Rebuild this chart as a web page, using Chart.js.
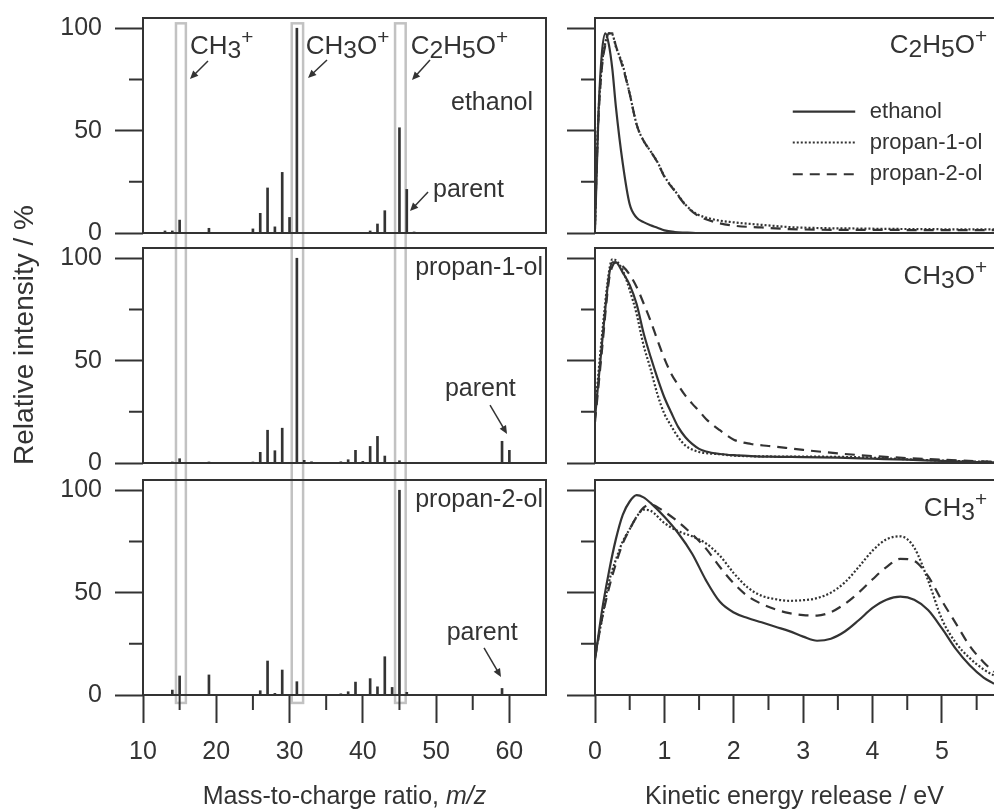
<!DOCTYPE html>
<html>
<head>
<meta charset="utf-8">
<title>Mass spectra and KER distributions</title>
<script src="https://cdn.jsdelivr.net/npm/chart.js@4.4.1/dist/chart.umd.min.js"></script>
<style>
  html, body { margin: 0; padding: 0; background: #fff; }
  #figure { position: relative; width: 994px; height: 811px; overflow: hidden; }
  #figure canvas { position: absolute; top: 0; }
</style>
</head>
<body>
<div id="figure">
  <canvas id="ms1" width="560" height="811" style="left:0px"></canvas>
  <canvas id="ms2" width="560" height="811" style="left:0px"></canvas>
  <canvas id="ms3" width="560" height="811" style="left:0px"></canvas>
  <canvas id="ker1" width="454" height="811" style="left:540px"></canvas>
  <canvas id="ker2" width="454" height="811" style="left:540px"></canvas>
  <canvas id="ker3" width="454" height="811" style="left:540px"></canvas>
</div>
<script>
// mass spectra, m/z and relative intensity in %
const ethanolMz  = [13, 14, 15, 19, 25, 26, 27, 28, 29, 30, 31, 41, 42, 43, 45, 46, 47];
const ethanolInt = [1, 1, 6.3, 2.3, 2, 9.6, 22, 3, 29.6, 7.6, 100, 1, 4.4, 10.9, 51.4, 21.3, 0.5];
const propan1Mz  = [14, 15, 19, 25, 26, 27, 28, 29, 31, 32, 33, 37, 38, 39, 40, 41, 42, 43, 45, 57, 59, 60];
const propan1Int = [0.5, 2.1, 0.5, 0.5, 5.2, 16, 6, 17, 100, 1.3, 0.6, 0.6, 1.6, 6.2, 0.8, 8.1, 13, 3.4, 1.1, 0.3, 10.6, 6.2];
const propan2Mz  = [14, 15, 19, 26, 27, 28, 29, 31, 37, 38, 39, 41, 42, 43, 44, 45, 46, 59];
const propan2Int = [2.4, 9.3, 9.8, 2.1, 16.6, 0.8, 12.2, 6.5, 0.6, 1.6, 6.3, 8, 4, 18.7, 3.7, 100, 1.3, 3.2];

// kinetic energy release (eV) and relative intensity, one grid per fragment ion
const keC2H5O      = [0, 0.025, 0.05, 0.1, 0.15, 0.2, 0.25, 0.3, 0.4, 0.5, 0.6, 0.7, 0.8, 0.9, 1.0, 1.15, 1.3, 1.45, 1.7, 2.0, 2.4, 2.8, 3.25, 3.75, 4.25, 4.75, 5.25, 5.75];
const c2h5oEthanol = [2, 30, 58, 88, 97.5, 92, 80, 62, 34, 14, 7.5, 5.3, 3.8, 2.6, 1.3, 0.5, 0.2, 0, 0, 0, 0, 0, 0, 0, 0, 0, 0, 0];
const c2h5oPropan1 = [4, 35, 58, 82, 93, 97.5, 97, 91, 82, 68, 53, 45, 40, 34.6, 27.7, 20.7, 14, 9.6, 6.7, 5.2, 4, 2.9, 2.4, 2.2, 2.0, 1.9, 1.8, 1.8];
const c2h5oPropan2 = [4, 33, 56, 81, 92, 97.5, 97.5, 91.5, 81, 68, 53, 45, 40, 34.5, 27.5, 20.5, 13.8, 9.2, 5.6, 3.6, 2.7, 1.9, 1.6, 1.5, 1.5, 1.4, 1.4, 1.4];

const keCH3O      = [0, 0.1, 0.2, 0.25, 0.3, 0.4, 0.5, 0.6, 0.7, 0.8, 0.9, 1.0, 1.1, 1.2, 1.3, 1.4, 1.5, 1.6, 1.8, 2.0, 2.25, 2.5, 2.75, 3.0, 3.5, 4.0, 4.5, 5.0, 5.5, 5.75];
const ch3oEthanol = [22, 58, 91, 98, 98, 93, 87, 77.6, 63.5, 52, 41.5, 32, 24.5, 17.5, 12.7, 9.3, 6.9, 5.6, 4.4, 3.8, 3.4, 3.1, 3.0, 2.9, 2.6, 2.1, 1.6, 1.0, 0.5, 0.3];
const ch3oPropan1 = [25, 62, 93, 99.5, 99, 94, 84.5, 72.7, 57.5, 46, 33.5, 24, 18, 12.5, 8.6, 6.6, 5.4, 4.8, 4.3, 3.6, 3.3, 3.2, 3.1, 3.1, 3.0, 2.6, 1.8, 1.2, 0.7, 0.6];
const ch3oPropan2 = [20, 55, 89, 96, 98, 96, 92, 86, 78, 69.5, 60, 51, 43.5, 38, 33, 29, 25.4, 21.5, 16, 11.4, 9.3, 8.3, 7.4, 6.4, 4.7, 3.4, 2.4, 1.6, 0.9, 0.6];

const keCH3      = [0, 0.1, 0.2, 0.3, 0.4, 0.5, 0.6, 0.7, 0.8, 1.0, 1.2, 1.4, 1.6, 1.8, 2.0, 2.2, 2.4, 2.6, 2.8, 3.0, 3.2, 3.4, 3.6, 3.8, 4.0, 4.2, 4.4, 4.6, 4.8, 5.0, 5.2, 5.4, 5.6, 5.75];
const ch3Ethanol = [17, 41, 60, 76, 88, 94.5, 97.6, 96.5, 93.8, 87, 79, 69, 56, 45.5, 40.3, 37.6, 35.5, 33.3, 31.2, 28.5, 26.5, 27.5, 31, 36.5, 42.5, 46.5, 48, 46.5, 41.5, 32.5, 22.5, 14.5, 8.5, 5.5];
const ch3Propan1 = [19, 37, 55, 66, 75, 81, 87, 90.5, 90, 84, 80, 77.5, 74, 68, 59.5, 52.5, 48.5, 46.8, 46, 46.3, 47.3, 50, 55, 62.5, 70.5, 76, 77.5, 72, 56, 37, 25.5, 18, 12.5, 9.5];
const ch3Propan2 = [18, 37, 52, 64, 74, 81, 87, 91.5, 93, 89.5, 84.5, 78.5, 71.5, 62.5, 54.5, 48.3, 44.5, 41.8, 40, 39, 38.8, 40.5, 44.5, 50, 56.5, 62.5, 66.5, 65.5, 58, 46, 35, 24, 16, 11.3];

const seriesNames = ['ethanol', 'propan-1-ol', 'propan-2-ol'];

// ticks
const intensityTicks = [0, 50, 100];
const intensityMinor = [25, 75];
const mzTicks = [10, 20, 30, 40, 50, 60];
const mzMinor = [15, 25, 35, 45, 55];
const keTicks = [0, 1, 2, 3, 4, 5];
const keMinor = [0.5, 1.5, 2.5, 3.5, 4.5, 5.5];

const ink = '#333333';
const boxGrey = '#c2c2c2';
const family = '"Liberation Sans", Arial, Helvetica, sans-serif';
const H = 811;

// plot rows (top / bottom of each plot area)
const rows = [{top: 18, bottom: 233}, {top: 248, bottom: 463}, {top: 480, bottom: 695}];

// text made of parts: [text, 0 normal | 1 subscript | 2 superscript]
function drawRich(ctx, parts, x, y, size, align) {
  const fontOf = p => (p[1] === 2 ? size * 0.8 : p[1] === 1 ? size * 0.95 : size) + 'px ' + family;
  const widths = parts.map(p => { ctx.font = fontOf(p); return ctx.measureText(p[0]).width; });
  const total = widths.reduce((s, w) => s + w, 0);
  let cx = align === 'right' ? x - total : x;
  ctx.textAlign = 'left';
  parts.forEach((p, i) => {
    ctx.font = fontOf(p);
    const dy = p[1] === 1 ? size * 0.16 : p[1] === 2 ? -size * 0.38 : 0;
    ctx.fillText(p[0], cx, y + dy);
    cx += widths[i];
  });
}

function drawArrow(ctx, x1, y1, x2, y2) {
  const ang = Math.atan2(y2 - y1, x2 - x1);
  const head = 9, spread = 0.42;
  ctx.beginPath();
  ctx.moveTo(x1, y1);
  ctx.lineTo(x2 - Math.cos(ang) * 5, y2 - Math.sin(ang) * 5);
  ctx.stroke();
  ctx.beginPath();
  ctx.moveTo(x2, y2);
  ctx.lineTo(x2 - head * Math.cos(ang - spread), y2 - head * Math.sin(ang - spread));
  ctx.lineTo(x2 - head * Math.cos(ang + spread), y2 - head * Math.sin(ang + spread));
  ctx.closePath();
  ctx.fill();
}

const decor = {
  id: 'decor',
  beforeDatasetsDraw(chart, args, o) {
    if (!o.boxes) return;
    const ctx = chart.ctx, sx = chart.scales.x, sy = chart.scales.y;
    ctx.save();
    ctx.strokeStyle = boxGrey;
    ctx.lineWidth = 2.5;
    o.boxes.forEach(b => {
      const l = sx.getPixelForValue(b.from), r = sx.getPixelForValue(b.to);
      const t = sy.getPixelForValue(b.top), btm = sy.getPixelForValue(b.bottom);
      ctx.strokeRect(l, t, r - l, btm - t);
    });
    ctx.restore();
  },
  afterDraw(chart, args, o) {
    const ctx = chart.ctx, a = chart.chartArea, sx = chart.scales.x, sy = chart.scales.y;
    ctx.save();
    ctx.strokeStyle = ink;
    ctx.fillStyle = ink;
    ctx.lineWidth = 2;

    // frame
    ctx.beginPath();
    ctx.moveTo(a.right, a.top);
    ctx.lineTo(a.left, a.top);
    ctx.lineTo(a.left, a.bottom);
    ctx.lineTo(a.right, a.bottom);
    if (o.closed) ctx.closePath();
    ctx.stroke();

    // minor ticks
    ctx.beginPath();
    (o.minorY || []).forEach(v => {
      const p = sy.getPixelForValue(v);
      ctx.moveTo(a.left - 14, p); ctx.lineTo(a.left, p);
    });
    (o.minorX || []).forEach(v => {
      const p = sx.getPixelForValue(v);
      ctx.moveTo(p, a.bottom); ctx.lineTo(p, a.bottom + 15);
    });
    ctx.stroke();

    // labels
    ctx.textBaseline = 'alphabetic';
    (o.labels || []).forEach(t => {
      drawRich(ctx, t.parts, sx.getPixelForValue(t.x), sy.getPixelForValue(t.y), t.size || 25, t.align || 'left');
    });

    // arrows
    ctx.lineWidth = 1.5;
    (o.arrows || []).forEach(r => {
      drawArrow(ctx, sx.getPixelForValue(r[0]), sy.getPixelForValue(r[1]),
                     sx.getPixelForValue(r[2]), sy.getPixelForValue(r[3]));
    });

    // legend inside the plot
    if (o.legend) {
      const lg = o.legend;
      const x1 = sx.getPixelForValue(lg.from), x2 = sx.getPixelForValue(lg.to), xt = sx.getPixelForValue(lg.text);
      ctx.font = '22px ' + family;
      ctx.textBaseline = 'middle';
      chart.data.datasets.forEach((ds, i) => {
        const y = sy.getPixelForValue(lg.rows[i]);
        ctx.save();
        ctx.lineWidth = ds.borderWidth;
        ctx.setLineDash(ds.borderDash || []);
        ctx.beginPath(); ctx.moveTo(x1, y); ctx.lineTo(x2, y); ctx.stroke();
        ctx.restore();
        ctx.textAlign = 'left';
        ctx.fillText(ds.label, xt, y);
      });
    }

    // x axis title
    if (o.xTitle) {
      const cx = (a.left + a.right) / 2;
      const parts = o.xTitle;
      const fontOf = p => (p[1] ? 'italic ' : '') + '25px ' + family;
      const widths = parts.map(p => { ctx.font = fontOf(p); return ctx.measureText(p[0]).width; });
      let x = cx - widths.reduce((s, w) => s + w, 0) / 2;
      ctx.textBaseline = 'middle';
      ctx.textAlign = 'left';
      parts.forEach((p, i) => { ctx.font = fontOf(p); ctx.fillText(p[0], x, 797); x += widths[i]; });
    }

    // y axis title
    if (o.yTitle) {
      ctx.translate(25, 335);
      ctx.rotate(-Math.PI / 2);
      ctx.font = '28px ' + family;
      ctx.textAlign = 'center';
      ctx.textBaseline = 'middle';
      ctx.fillText(o.yTitle, 0, 0);
    }
    ctx.restore();
  }
};

function xAxis(min, max, major, show) {
  return {
    type: 'linear', min: min, max: max, display: show, offset: false,
    afterBuildTicks: s => { s.ticks = major.map(v => ({value: v})); },
    afterFit: s => { s.height = show ? H - rows[2].bottom : 0; },
    border: {display: false},
    grid: {offset: false, drawOnChartArea: false, tickLength: 28, tickWidth: 2, tickColor: ink},
    ticks: {padding: 14, color: ink, font: {family: family, size: 25}, maxRotation: 0, autoSkip: false}
  };
}

function yAxis(width, labels) {
  return {
    type: 'linear', min: 0, max: 105,
    afterBuildTicks: s => { s.ticks = intensityTicks.map(v => ({value: v})); },
    afterFit: s => {
      s.width = width;
      // labels may overhang the plot; the rows are placed by hand
      s.paddingTop = 0;
      s.paddingBottom = 0;
    },
    border: {display: false},
    grid: {drawOnChartArea: false, tickLength: 28, tickWidth: 2, tickColor: ink},
    ticks: {display: labels, padding: 13, color: ink, font: {family: family, size: 25}}
  };
}

function massChart(id, row, mz, intensity, withAxis, deco) {
  return new Chart(document.getElementById(id), {
    type: 'bar',
    data: {
      datasets: [{
        data: mz.map((m, i) => ({x: m, y: intensity[i]})),
        backgroundColor: ink,
        barThickness: 2,
        grouped: false
      }]
    },
    options: {
      responsive: false, animation: false, devicePixelRatio: 1,
      layout: {padding: {top: row.top, bottom: withAxis ? 0 : H - row.bottom, left: 0, right: 14}},
      plugins: {
        legend: {display: false},
        tooltip: {enabled: false},
        decor: Object.assign({closed: true, minorY: intensityMinor, minorX: withAxis ? mzMinor : []}, deco)
      },
      scales: {x: xAxis(10, 65, mzTicks, withAxis), y: yAxis(143, true)}
    },
    plugins: [decor]
  });
}

function kerChart(id, row, ke, series, withAxis, deco) {
  const dashes = [[], [2, 2], [10, 7]];
  return new Chart(document.getElementById(id), {
    type: 'line',
    data: {
      datasets: series.map((vals, k) => ({
        label: seriesNames[k],
        data: ke.map((e, i) => ({x: e, y: vals[i]})),
        borderColor: ink,
        borderWidth: 2.2,
        borderDash: dashes[k],
        pointRadius: 0,
        cubicInterpolationMode: 'monotone',
        fill: false
      }))
    },
    options: {
      responsive: false, animation: false, devicePixelRatio: 1,
      layout: {padding: {top: row.top, bottom: withAxis ? 0 : H - row.bottom, left: 0, right: 0}},
      plugins: {
        legend: {display: false},
        tooltip: {enabled: false},
        decor: Object.assign({closed: false, minorY: intensityMinor, minorX: withAxis ? keMinor : []}, deco)
      },
      scales: {x: xAxis(0, 5.75, keTicks, withAxis), y: yAxis(55, false)}
    },
    plugins: [decor]
  });
}

const CH3 = [['CH', 0], ['3', 1], ['+', 2]];
const CH3O = [['CH', 0], ['3', 1], ['O', 0], ['+', 2]];
const C2H5O = [['C', 0], ['2', 1], ['H', 0], ['5', 1], ['O', 0], ['+', 2]];

massChart('ms1', rows[0], ethanolMz, ethanolInt, false, {
  boxes: [
    {from: 14.5, to: 15.85, top: 102.4, bottom: -229.5},
    {from: 30.3, to: 31.85, top: 102.4, bottom: -229.5},
    {from: 44.4, to: 45.85, top: 102.4, bottom: -229.5}
  ],
  labels: [
    {parts: CH3, x: 16.41, y: 87.4, size: 26},
    {parts: CH3O, x: 32.2, y: 87.4, size: 26},
    {parts: C2H5O, x: 46.54, y: 87.4, size: 26},
    {parts: [['ethanol', 0]], x: 63.23, y: 60.1, align: 'right'},
    {parts: [['parent', 0]], x: 49.58, y: 17.6}
  ],
  arrows: [[18.87, 84.0, 16.41, 75.2], [35.11, 84.5, 32.52, 75.7], [49.17, 84.5, 46.71, 74.7], [48.9, 20.0, 46.44, 10.7]],
  yTitle: 'Relative intensity / %'
});

massChart('ms2', rows[1], propan1Mz, propan1Int, false, {
  labels: [
    {parts: [['propan-1-ol', 0]], x: 64.6, y: 91.8, align: 'right'},
    {parts: [['parent', 0]], x: 51.2, y: 32.7}
  ],
  arrows: [[57.36, 28.3, 59.68, 14.2]]
});

massChart('ms3', rows[2], propan2Mz, propan2Int, true, {
  labels: [
    {parts: [['propan-2-ol', 0]], x: 64.6, y: 91.8, align: 'right'},
    {parts: [['parent', 0]], x: 51.45, y: 26.9}
  ],
  arrows: [[56.54, 23.0, 58.86, 8.8]],
  xTitle: [['Mass-to-charge ratio, ', 0], ['m/z', 1]]
});

kerChart('ker1', rows[0], keC2H5O, [c2h5oEthanol, c2h5oPropan1, c2h5oPropan2], false, {
  labels: [{parts: C2H5O, x: 5.65, y: 88, size: 26, align: 'right'}],
  legend: {from: 2.85, to: 3.75, text: 3.96, rows: [59.3, 44.2, 28.7]}
});

kerChart('ker2', rows[1], keCH3O, [ch3oEthanol, ch3oPropan1, ch3oPropan2], false, {
  labels: [{parts: CH3O, x: 5.65, y: 87.4, size: 26, align: 'right'}]
});

kerChart('ker3', rows[2], keCH3, [ch3Ethanol, ch3Propan1, ch3Propan2], true, {
  labels: [{parts: CH3, x: 5.65, y: 87.3, size: 26, align: 'right'}],
  xTitle: [['Kinetic energy release / eV', 0]]
});
</script>
</body>
</html>
